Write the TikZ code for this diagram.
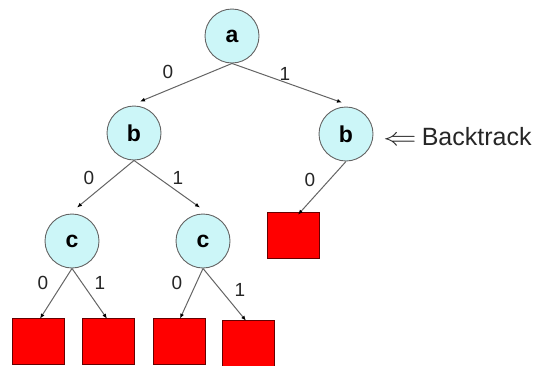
\documentclass[tikz,border=0pt]{standalone}
\usepackage{fontspec}
\usepackage{graphicx}
\setmainfont{Liberation Sans}
\usetikzlibrary{arrows.meta}
\definecolor{nodefill}{RGB}{204,246,248}
\definecolor{edgegray}{RGB}{100,100,100}
\tikzset{
  state/.style={circle, draw=edgegray, line width=0.9pt, fill=nodefill,
    minimum size=54pt, inner sep=0pt, font=\fontsize{23}{25}\selectfont\bfseries},
  leaf/.style={rectangle, draw=black!60!red, line width=0.6pt, fill=red,
    minimum width=52pt, minimum height=46pt, inner sep=0pt},
  branch/.style={draw=edgegray, line width=1pt, -{Latex[length=5pt,width=4pt,black]}},
  bit/.style={font=\fontsize{19}{21}\selectfont, text=black!85}
}
\begin{document}
\begin{tikzpicture}[x=1pt, y=-1pt]
  \useasboundingbox (0,0) rectangle (537,365);

  % decision nodes
  \node[state] (a)  at (232,36)  {a};
  \node[state] (b1) at (134,133) {b};
  \node[state] (b2) at (346,134) {b};
  \node[state] (c1) at (72,241)  {c};
  \node[state] (c2) at (203,241) {c};

  % terminal leaves
  \node[leaf] (s0) at (293,235) {};
  \node[leaf] (s1) at (38,341)  {};
  \node[leaf] (s2) at (108,341) {};
  \node[leaf] (s3) at (179,341) {};
  \node[leaf] (s4) at (248,343) {};

  % branches
  \draw[branch] (a.south)  -- ([xshift=6pt,yshift=4pt]b1.north);
  \draw[branch] (a.south)  -- ([xshift=-4pt,yshift=4pt]b2.north);
  \draw[branch] (b1.south) -- ([xshift=5pt,yshift=6pt]c1.north);
  \draw[branch] (b1.south) -- ([xshift=-3pt,yshift=6pt]c2.north);
  \draw[branch] (b2.south) -- ([xshift=5pt,yshift=-3pt]s0.north);
  \draw[branch] (c1.south) -- ([xshift=2pt,yshift=-1pt]s1.north);
  \draw[branch] (c1.south) -- ([xshift=-1pt,yshift=-1pt]s2.north);
  \draw[branch] (c2.south) -- ([xshift=1pt,yshift=-1pt]s3.north);
  \draw[branch] (c2.south) -- ([xshift=-2pt,yshift=-1pt]s4.north);

  % branch labels
  \node[bit] (l1) at (168,72)  {0};
  \node[bit] (l2) at (285,74)  {1};
  \node[bit] (l3) at (89,178)  {0};
  \node[bit] (l4) at (178,178) {1};
  \node[bit] (l5) at (310,180) {0};
  \node[bit] (l6) at (43,283)  {0};
  \node[bit] (l7) at (100,283) {1};
  \node[bit] (l8) at (177,283) {0};
  \node[bit] (l9) at (240,290) {1};

  % annotation
  \node[anchor=west, inner sep=0pt, font=\fontsize{25}{27}\selectfont, text=black!85]
    (bt) at (383,137) {\scalebox{1.35}[1]{$\Leftarrow$}\hspace{5pt}Backtrack};
\end{tikzpicture}
\end{document}
